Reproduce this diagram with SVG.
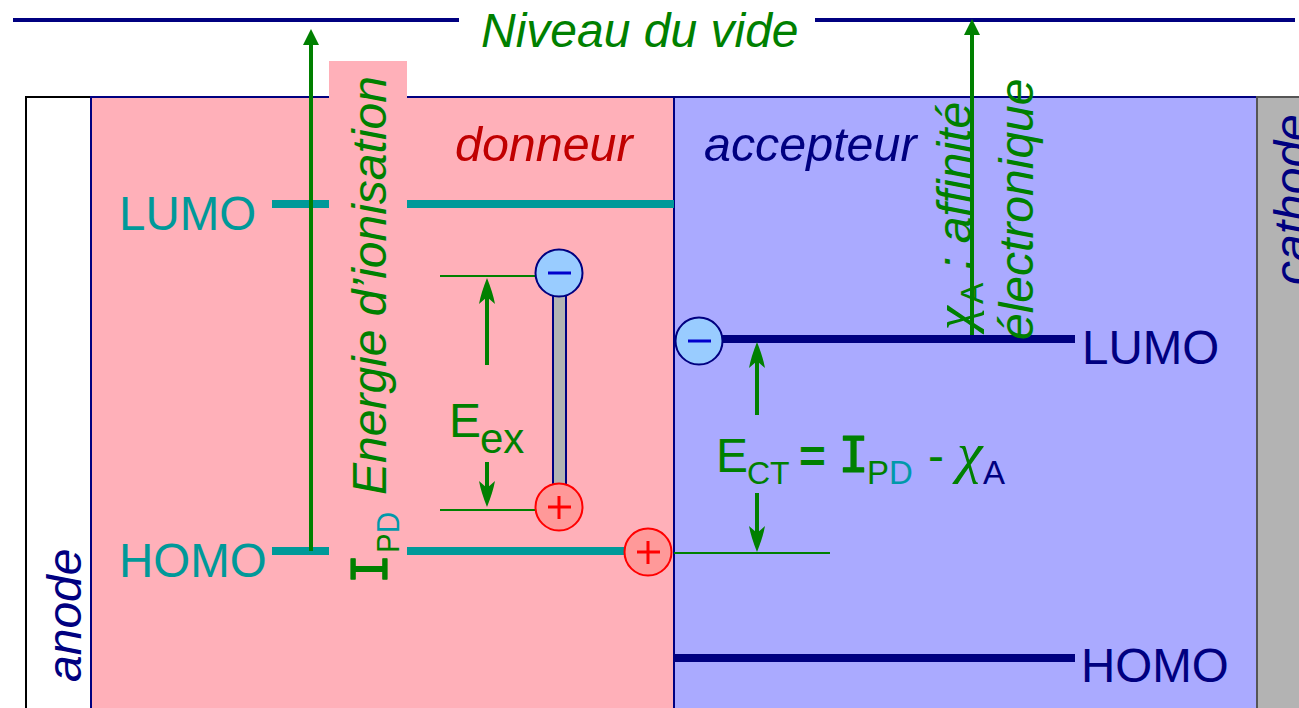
<svg xmlns="http://www.w3.org/2000/svg" width="1299" height="708" viewBox="0 0 1299 708">
<style>
text{font-family:"Liberation Sans",Arial,sans-serif}
.i{font-style:italic}
.g{fill:#008000}.t{fill:#009999}.n{fill:#000080}
.m{font-family:"DejaVu Sans Mono",monospace;stroke:#008000;stroke-width:1.2;stroke-linejoin:round}
.c{font-family:"Liberation Serif",serif;font-style:italic}
.lt{stroke:#009999;stroke-width:8;fill:none}
.ln{stroke:#000080;stroke-width:8;fill:none}
.ar{stroke:#008000;stroke-width:4;fill:none}
.th{stroke:#008000;stroke-width:2;fill:none}
.minus{fill:#99ccff;stroke:#000080;stroke-width:2}
.plus{fill:#ff9999;stroke:#ff0000;stroke-width:2}
</style>
<defs>
<marker id="a" markerUnits="userSpaceOnUse" markerWidth="28" markerHeight="18" refX="16" refY="8" orient="auto"><path d="M26 8Q11 2 0 0L7 8L0 16Q11 14 26 8Z" fill="#008000"/></marker>
<marker id="b" markerUnits="userSpaceOnUse" markerWidth="18" markerHeight="18" refX="4" refY="8" orient="auto"><path d="M16 8L0 0V16Z" fill="#008000"/></marker>
</defs>
<rect width="1299" height="708" fill="#fff"/>
<g id="anode"><rect x="26" y="97" width="65" height="620" fill="#fff" stroke="#000" stroke-width="2"/><text class="i n" font-size="48" transform="translate(81 682) rotate(-90)">anode</text></g>
<g id="donneur"><rect x="91" y="97" width="583" height="620" fill="#ffb0b9" stroke="#000080" stroke-width="2"/><text class="i" fill="#c00000" font-size="48.4" x="455" y="161">donneur</text></g>
<g id="accepteur"><rect x="674" y="97" width="583" height="620" fill="#aaaaff" stroke="#000080" stroke-width="2"/><text class="i n" font-size="48.4" x="704" y="161">accepteur</text></g>
<g id="cathode"><rect x="1257" y="97" width="60" height="620" fill="#b3b3b3" stroke="#555" stroke-width="2"/><text class="i n" font-size="48" transform="translate(1308 285) rotate(-90)">cathode</text></g>
<g id="vide"><path d="M13 20H459M815 20H1295" class="ln" style="stroke-width:4"/><text class="i g" font-size="48" x="481" y="47">Niveau du vide</text></g>
<g id="donor-levels">
<path d="M272 204H674M272 551H640" class="lt"/>
<text class="t" font-size="47.5" x="119" y="230">LUMO</text>
<text class="t" font-size="47.5" x="119" y="577">HOMO</text>
</g>
<g id="acceptor-levels">
<path d="M700 339H1075M674 658H1075" class="ln"/>
<text class="n" font-size="47.5" x="1082" y="364">LUMO</text>
<text class="n" font-size="47.5" x="1081" y="682">HOMO</text>
</g>
<g id="connectors">
<path d="M311 551V41" class="ar" marker-end="url(#b)"/>
<path d="M972 335V31" class="ar" marker-end="url(#b)"/>
<path d="M440 276H540M440 510H540M674 553H830" class="th"/>
<path d="M487 365V288" class="ar" marker-end="url(#a)"/>
<path d="M487 462V497" class="ar" marker-end="url(#a)"/>
<path d="M757 415V352" class="ar" marker-end="url(#a)"/>
<path d="M757 493V542" class="ar" marker-end="url(#a)"/>
</g>
<g id="ionisation-label">
<rect x="329" y="61" width="78" height="530" fill="#ffb0b9"/>
<text font-size="48" transform="translate(386 495) rotate(-90)" class="i g">Energie d’ionisation</text>
<text font-size="50" transform="translate(387 584) rotate(-90)" class="m g">I</text>
<text font-size="32" textLength="41" lengthAdjust="spacingAndGlyphs" transform="translate(399 553) rotate(-90)"><tspan class="g">P</tspan><tspan fill="#0099aa">D</tspan></text>
</g>
<g id="exciton">
<rect x="553" y="290" width="13" height="205" fill="#b3b3b3" stroke="#000080" stroke-width="2"/>
<circle class="minus" cx="559" cy="273" r="23.5"/><path d="M548 273H571" stroke="#0000cc" stroke-width="3"/>
<circle class="plus" cx="559" cy="507" r="23.5"/><path d="M548 507H571M559 496V519" stroke="#f00" stroke-width="3"/>
</g>
<g id="ct-minus"><circle class="minus" cx="699" cy="341" r="23.5"/><path d="M688 341H711" stroke="#0000cc" stroke-width="3"/></g>
<g id="ct-plus"><circle class="plus" cx="648" cy="552" r="23.5"/><path d="M637 552H660M648 541V564" stroke="#f00" stroke-width="3"/></g>
<g id="labels">
<text class="g" font-size="48" x="449" y="437">E</text><text class="g" font-size="42" x="480" y="453">ex</text>
<text class="g" font-size="48" x="716" y="472">E</text><text class="g" font-size="32" x="747" y="483.5">CT</text>
<text class="g" font-size="46" font-weight="bold" x="799" y="472">=</text>
<text class="m g" font-size="50" x="838.5" y="472">I</text>
<text font-size="33" x="867" y="483.5"><tspan class="g">P</tspan><tspan fill="#0099aa">D</tspan></text>
<text class="g" font-size="48" x="928" y="472">-</text>
<text class="c g" font-size="58" x="957" y="472">χ</text>
<text class="n" font-size="33" x="983" y="483.5">A</text>
<text class="c g" font-size="54" transform="translate(972 330) rotate(-90)">χ</text>
<text class="g" font-size="32" transform="translate(983 304) rotate(-90)">A</text>
<text class="i g" font-size="48" transform="translate(971 270) rotate(-90)">: affinité</text>
<text class="i g" font-size="48" transform="translate(1033 340) rotate(-90)">électronique</text>
</g>
</svg>
